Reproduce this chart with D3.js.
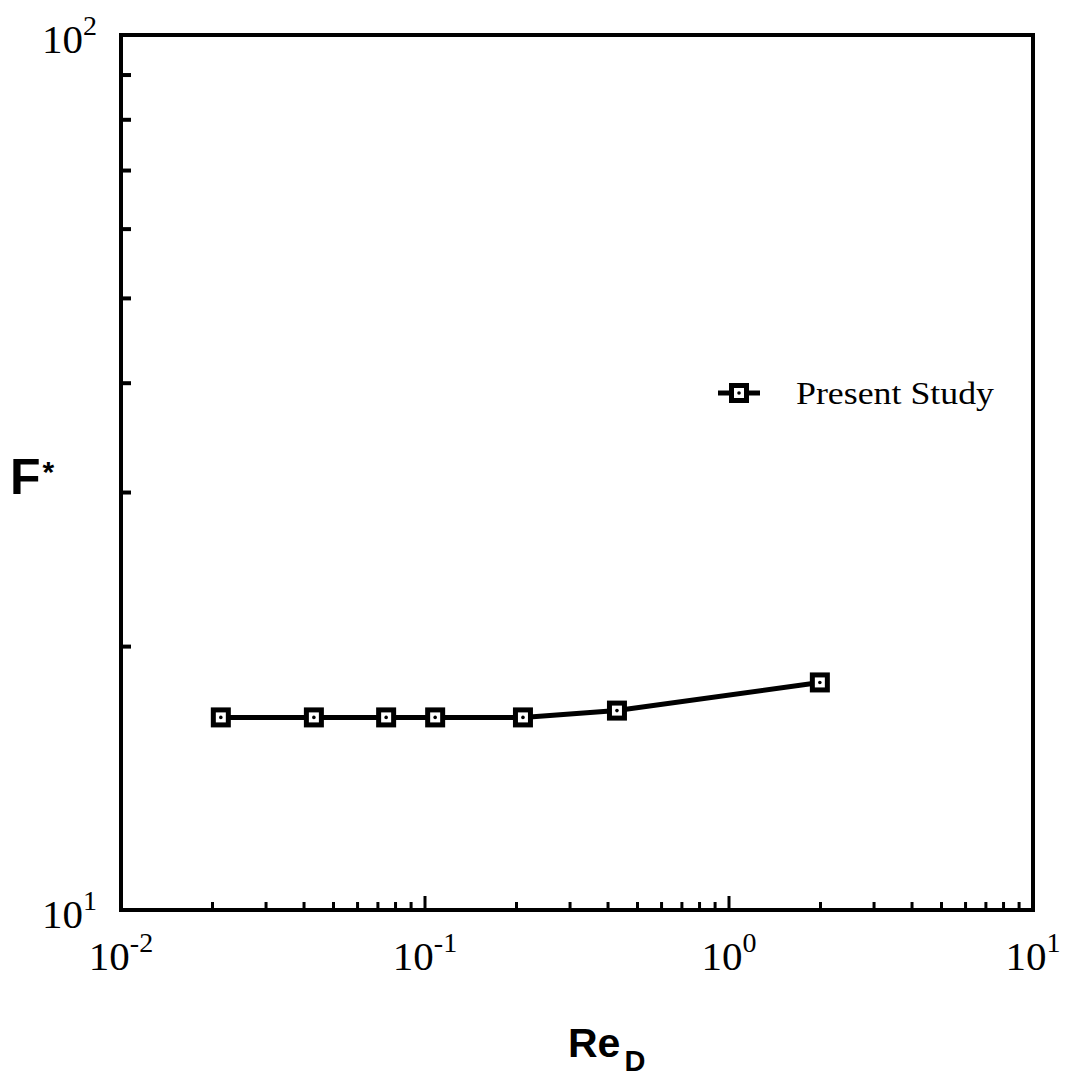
<!DOCTYPE html>
<html>
<head>
<meta charset="utf-8">
<script src="https://cdn.jsdelivr.net/npm/d3@7"></script>
<style>
  body { margin: 0; background: #fff; }
  text { fill: #000; }
</style>
</head>
<body>
<div class="chart"></div>
<script>
// Re_D values and F* values
const reD = [0.0213, 0.0431, 0.0745, 0.108, 0.21, 0.428, 1.99];
const fStar = [16.6, 16.6, 16.6, 16.6, 16.6, 16.9, 18.2];
const xTickExps = [-2, -1, 0, 1];
const yTickExps = [1, 2];
const seriesName = "Present Study";

const width = 1067;
const height = 1077;
const margin = { left: 121, right: 34, top: 35, bottom: 167 };

const x = d3.scaleLog().domain([1e-2, 1e1]).range([margin.left, width - margin.right]);
const y = d3.scaleLog().domain([1e1, 1e2]).range([height - margin.bottom, margin.top]);

const svg = d3.select(".chart").append("svg")
  .attr("width", width)
  .attr("height", height);

// minor / major tick values for a log axis
function logTicks(lo, hi) {
  const out = [];
  for (let e = lo; e < hi; e++) {
    for (let m = 1; m < 10; m++) out.push({ v: m * Math.pow(10, e), major: m === 1 });
  }
  out.push({ v: Math.pow(10, hi), major: true });
  return out;
}

// frame
svg.append("rect")
  .attr("x", x.range()[0])
  .attr("y", y.range()[1])
  .attr("width", x.range()[1] - x.range()[0])
  .attr("height", y.range()[0] - y.range()[1])
  .attr("fill", "none")
  .attr("stroke", "#000")
  .attr("stroke-width", 4);

// x ticks, pointing up into the plot
svg.append("g").selectAll("line")
  .data(logTicks(-2, 1).filter(d => d.v > 1e-2 && d.v < 1e1))
  .enter().append("line")
  .attr("x1", d => x(d.v))
  .attr("x2", d => x(d.v))
  .attr("y1", y(1e1))
  .attr("y2", d => y(1e1) - (d.major ? 14 : 8))
  .attr("stroke", "#000")
  .attr("stroke-width", 3);

// y ticks, pointing right into the plot
svg.append("g").selectAll("line")
  .data(logTicks(1, 2).filter(d => d.v > 1e1 && d.v < 1e2))
  .enter().append("line")
  .attr("x1", x(1e-2))
  .attr("x2", d => x(1e-2) + (d.major ? 14 : 10))
  .attr("y1", d => y(d.v))
  .attr("y2", d => y(d.v))
  .attr("stroke", "#000")
  .attr("stroke-width", 4);

const serif = "'Liberation Serif', 'DejaVu Serif', serif";
const sans = "'Liberation Sans', Arial, sans-serif";

// x tick labels
const xl = svg.append("g").selectAll("text")
  .data(xTickExps)
  .enter().append("text")
  .attr("x", d => x(Math.pow(10, d)))
  .attr("y", 970)
  .attr("text-anchor", "middle")
  .attr("font-family", serif)
  .attr("font-size", 41);
xl.append("tspan").text("10");
xl.append("tspan").attr("dy", -18).attr("font-size", 28).text(d => d);

// y tick labels
const yl = svg.append("g").selectAll("text")
  .data(yTickExps)
  .enter().append("text")
  .attr("x", 97)
  .attr("y", d => y(Math.pow(10, d)) + 18)
  .attr("text-anchor", "end")
  .attr("font-family", serif)
  .attr("font-size", 41);
yl.append("tspan").text("10");
yl.append("tspan").attr("dy", -18).attr("font-size", 28).text(d => d);

// axis titles
const xt = svg.append("text")
  .attr("x", 568)
  .attr("y", 1057)
  .attr("font-family", sans)
  .attr("font-weight", "bold")
  .attr("font-size", 41);
xt.append("tspan").text("Re");
xt.append("tspan").attr("dx", 4).attr("dy", 14).attr("font-size", 29).text("D");

const yt = svg.append("text")
  .attr("x", 10)
  .attr("y", 494)
  .attr("font-family", sans)
  .attr("font-weight", "bold")
  .attr("font-size", 50);
yt.append("tspan").text("F");
yt.append("tspan").attr("dx", 2).attr("dy", -12).attr("font-size", 30).text("*");

// series line
const pts = reD.map((v, i) => [v, fStar[i]]);
svg.append("path")
  .datum(pts)
  .attr("fill", "none")
  .attr("stroke", "#000")
  .attr("stroke-width", 5)
  .attr("d", d3.line().x(d => x(d[0])).y(d => y(d[1])));

function marker(g) {
  g.append("rect")
    .attr("x", -10).attr("y", -10).attr("width", 20).attr("height", 20)
    .attr("fill", "#000");
  g.append("rect")
    .attr("x", -5).attr("y", -5).attr("width", 10).attr("height", 10)
    .attr("fill", "#fff");
  g.append("circle").attr("r", 1.8).attr("fill", "#000");
}

svg.append("g").selectAll("g")
  .data(pts)
  .enter().append("g")
  .attr("transform", d => `translate(${x(d[0])},${y(d[1])})`)
  .call(marker);

// legend
const leg = svg.append("g").attr("transform", "translate(718,393)");
leg.append("line")
  .attr("x1", 0).attr("x2", 42)
  .attr("stroke", "#000").attr("stroke-width", 5);
leg.append("g").attr("transform", "translate(21,0)").call(marker);
leg.append("text")
  .attr("x", 78)
  .attr("y", 11)
  .attr("font-family", serif)
  .attr("font-size", 31)
  .attr("textLength", 198)
  .attr("lengthAdjust", "spacingAndGlyphs")
  .text(seriesName);
</script>
</body>
</html>
